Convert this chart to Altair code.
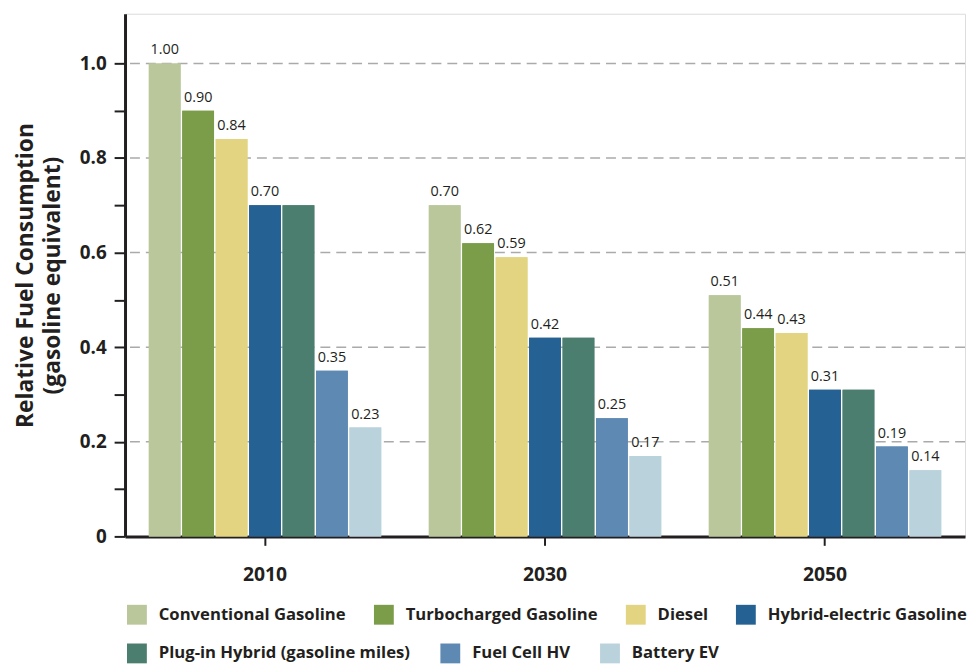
import altair as alt
import pandas as pd

years = ["2010", "2030", "2050"]
categories = ["Conventional Gasoline", "Turbocharged Gasoline", "Diesel",
              "Hybrid-electric Gasoline", "Plug-in Hybrid (gasoline miles)",
              "Fuel Cell HV", "Battery EV"]
colors = ["#b9c79b", "#7b9d4a", "#e2d480", "#256192", "#4b7e6e", "#5d89b3", "#bad2dc"]
values_2010 = [1.00, 0.90, 0.84, 0.70, 0.70, 0.35, 0.23]
values_2030 = [0.70, 0.62, 0.59, 0.42, 0.42, 0.25, 0.17]
values_2050 = [0.51, 0.44, 0.43, 0.31, 0.31, 0.19, 0.14]
show_label = [True, True, True, True, False, True, True]
grid_values = [0.2, 0.4, 0.6, 0.8, 1.0]
tick_values = [0, 0.1, 0.2, 0.3, 0.4, 0.5, 0.6, 0.7, 0.8, 0.9, 1.0]
legend_row1 = categories[:4]
legend_row2 = categories[4:]

rows = []
for yr, vals in zip(years, [values_2010, values_2030, values_2050]):
    for i, (c, v) in enumerate(zip(categories, vals)):
        rows.append({"year": yr, "category": c, "category2": c, "value": v,
                     "label": f"{v:.2f}" if show_label[i] else ""})
df = pd.DataFrame(rows)
grid_df = pd.DataFrame({"g": grid_values})

FONT = "Open Sans"
TXT = "#231f20"

y_scale = alt.Scale(domain=[0, 1.105], nice=False, zero=True)
x_enc = alt.X("year:N", sort=years,
              scale=alt.Scale(paddingInner=0.17, paddingOuter=0.085),
              axis=alt.Axis(title=None, labelFont=FONT, labelFontSize=19.5,
                            labelFontWeight="bold", labelColor=TXT, labelAngle=0,
                            tickSize=9, tickWidth=2, tickColor=TXT,
                            labelPadding=20, domainColor=TXT, domainWidth=3))
xoff = alt.XOffset("category:N", sort=categories, scale=alt.Scale(paddingInner=0.05))
y_enc = alt.Y("value:Q", scale=y_scale,
              axis=alt.Axis(title=["Relative Fuel Consumption", "(gasoline equivalent)"],
                            values=tick_values, grid=False,
                            labelExpr="datum.value == 0 ? '0' : (round(datum.value*10) % 2 == 0 ? format(datum.value, '.1f') : '')",
                            labelFont=FONT, labelFontSize=19, labelFontWeight="bold",
                            labelColor=TXT, tickSize=11, tickWidth=2, tickColor=TXT,
                            labelPadding=8, domainColor=TXT, domainWidth=3,
                            titleFont=FONT, titleFontSize=23, titleFontWeight="bold",
                            titleColor=TXT, titlePadding=15, titleLineHeight=27))

legend_common = dict(title=None, orient="none", direction="horizontal",
                     symbolType="square", symbolSize=400, symbolStrokeWidth=0,
                     symbolOpacity=1, labelFont=FONT, labelFontSize=16.8,
                     labelFontWeight="bold", labelColor=TXT, labelOffset=12,
                     labelLimit=400)

grid = alt.Chart(grid_df).mark_rule(color="#aaaaaa", strokeWidth=1.5,
                                     strokeDash=[10, 6]).encode(
    y=alt.Y("g:Q", scale=y_scale)
)

bars = alt.Chart(df).mark_bar().encode(
    x=x_enc,
    xOffset=xoff,
    y=y_enc,
    color=alt.Color("category:N", sort=categories,
                    scale=alt.Scale(domain=categories, range=colors),
                    legend=alt.Legend(values=legend_row1, columns=4, legendX=2,
                                      legendY=596, columnPadding=28, **legend_common))
)

# second legend row: same colours, domain listed in a different order so the
# two legends are kept apart
bars2 = alt.Chart(df).mark_bar().encode(
    x=alt.X("year:N", sort=years),
    xOffset=xoff,
    y=alt.Y("value:Q", scale=y_scale),
    fill=alt.Fill("category2:N",
                  scale=alt.Scale(domain=legend_row2 + legend_row1,
                                  range=colors[4:] + colors[:4]),
                  legend=alt.Legend(values=legend_row2, columns=3, legendX=2,
                                    legendY=635, columnPadding=30, **legend_common))
)

text = alt.Chart(df).mark_text(baseline="bottom", dy=-6, font=FONT, fontSize=14.5,
                               color=TXT).encode(
    x=alt.X("year:N", sort=years),
    xOffset=xoff,
    y=alt.Y("value:Q", scale=y_scale),
    text="label:N"
)

chart = alt.layer(grid, bars, bars2, text).properties(
    width=847, height=527,
    autosize=alt.AutoSizeParams(type="none"),
    padding={"left": 118, "top": 3, "right": 4, "bottom": 142}
).configure_view(stroke=TXT, strokeWidth=3).configure(background="white")

chart.save("out.html", embed_options={"renderer": "svg", "actions": False})
